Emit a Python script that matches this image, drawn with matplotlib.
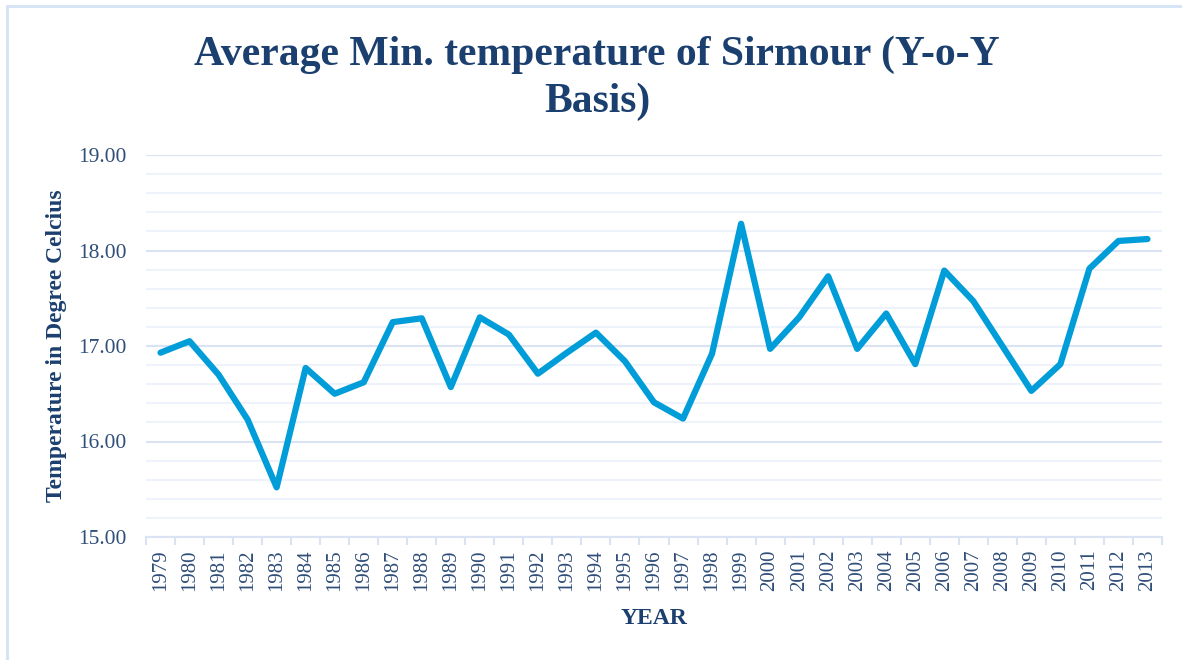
import numpy as np
import matplotlib.pyplot as plt
from matplotlib.patches import Rectangle
from matplotlib.ticker import MultipleLocator, FixedLocator, NullFormatter

# --- data ---
years = list(range(1979, 2014))
min_temp = [16.93, 17.05, 16.70, 16.23, 15.52, 16.77, 16.50, 16.62, 17.25, 17.29,
            16.57, 17.30, 17.12, 16.71, 16.93, 17.14, 16.84, 16.41, 16.24, 16.92,
            18.28, 16.97, 17.30, 17.73, 16.97, 17.34, 16.81, 17.79, 17.47, 17.00,
            16.53, 16.81, 17.81, 18.10, 18.12]
year_labels = [str(y) for y in years]

title_txt = "Average Min. temperature of Sirmour (Y-o-Y\nBasis)"
ylabel_txt = "Temperature in Degree Celcius"
xlabel_txt = "YEAR"

navy = "#1B3F6E"
tick_col = "#2F4E78"
line_col = "#009DD9"
major_grid = "#D9E3F3"
minor_grid = "#EEF2FA"

plt.rcParams['font.family'] = ['Liberation Serif', 'DejaVu Serif']

W, H = 1182, 660
fig = plt.figure(figsize=(W / 100, H / 100), dpi=100)
ax = fig.add_axes([146 / W, 1 - 537 / H, (1162 - 146) / W, (537 - 155) / H])

x = np.arange(len(years))
ax.plot(x, min_temp, color=line_col, linewidth=4.5, solid_capstyle='round',
        solid_joinstyle='round', zorder=3)

ax.set_xlim(-0.5, len(years) - 0.5)
ax.set_ylim(15, 19)

# y grid: major every 1, minor every 0.2
ax.yaxis.set_major_locator(MultipleLocator(1))
ax.yaxis.set_minor_locator(MultipleLocator(0.2))
ax.yaxis.set_major_formatter(plt.FuncFormatter(lambda v, p: f"{v:.2f}"))
ax.grid(axis='y', which='major', color=major_grid, linewidth=1.5, zorder=0)
ax.grid(axis='y', which='minor', color=minor_grid, linewidth=1.5, zorder=0)
ax.tick_params(axis='y', which='both', length=0, labelsize=15.5, labelcolor=tick_col, pad=14)

# x: labels at category centers, tick marks on the boundaries
ax.set_xticks(x)
ax.set_xticklabels(year_labels, rotation=90, fontsize=15, color=tick_col)
ax.tick_params(axis='x', which='major', length=0, pad=9)
ax.xaxis.set_minor_locator(FixedLocator(np.arange(-0.5, len(years), 1)))
ax.xaxis.set_minor_formatter(NullFormatter())
ax.tick_params(axis='x', which='minor', length=6, width=1.5, color=major_grid)

for side in ['top', 'right', 'left']:
    ax.spines[side].set_visible(False)
ax.spines['bottom'].set_color(major_grid)
ax.spines['bottom'].set_linewidth(1.5)

ax.set_ylabel(ylabel_txt, fontsize=17, fontweight='bold', color=navy)
ax.yaxis.set_label_coords((67 - 146) / 1016, 0.5)
ax.set_xlabel(xlabel_txt, fontsize=17, fontweight='bold', color=navy)
ax.xaxis.set_label_coords(0.5, (537 - 608) / 382)

fig.text(597 / W, 1 - 78 / H, title_txt, ha='center', va='center', fontsize=30,
         fontweight='bold', color=navy, linespacing=1.3)

# chart border (right and bottom edges run off the image)
fig.patches.append(Rectangle((7 / W, -0.01), 1.0, 1 - 6 / H + 0.01, transform=fig.transFigure,
                             fill=False, edgecolor="#D3E2F5", linewidth=2))

fig.savefig("out.png", dpi=100)
plt.close(fig)
